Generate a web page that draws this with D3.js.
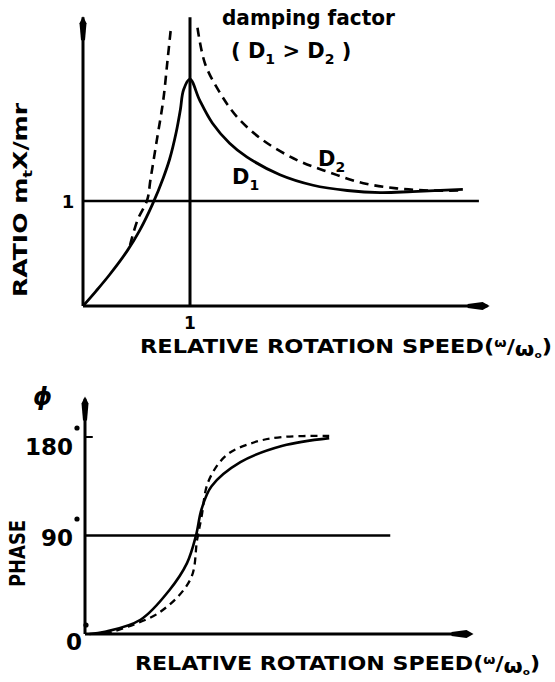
<!DOCTYPE html>
<html>
<head>
<meta charset="utf-8">
<script src="https://cdn.jsdelivr.net/npm/d3@7/dist/d3.min.js"></script>
<style>
  body { margin: 0; background: #fff; }
  text { font-family: "DejaVu Sans", sans-serif; fill: #000; }
</style>
</head>
<body>
<div id="chart"></div>
<script>
// upper plot: amplitude ratio vs relative rotation speed
const speedD1 = [0, 0.12, 0.25, 0.41, 0.53, 0.65, 0.75, 0.81, 0.87, 0.91, 0.94, 1.0, 1.09, 1.21, 1.37, 1.53, 1.84, 2.15, 2.47, 2.78, 3.08, 3.55];
const ratioD1 = [0, 0.14, 0.30, 0.52, 0.72, 0.97, 1.22, 1.40, 1.65, 1.87, 2.06, 2.16, 1.96, 1.74, 1.55, 1.42, 1.25, 1.15, 1.10, 1.08, 1.09, 1.11];
const speedD2Low = [0.44, 0.51, 0.60, 0.63, 0.69, 0.75, 0.79, 0.82];
const ratioD2Low = [0.58, 0.82, 1.01, 1.2, 1.58, 1.96, 2.34, 2.63];
const speedD2High = [1.07, 1.14, 1.28, 1.44, 1.68, 2.0, 2.31, 2.62, 2.93, 3.24, 3.55];
const ratioD2High = [2.65, 2.31, 2.03, 1.8, 1.58, 1.39, 1.27, 1.17, 1.12, 1.10, 1.10];
const ratioTicks = [1];
const speedTicks = [1];

// lower plot: phase vs relative rotation speed
const phaseSpeedD1 = [0.04, 0.18, 0.50, 0.76, 0.92, 1.0, 1.05, 1.14, 1.40, 1.78, 2.20];
const phaseD1 = [0, 2, 13, 40, 65, 90, 114, 135, 157, 172, 179];
const phaseSpeedD2 = [0.18, 0.66, 0.95, 1.01, 1.05, 1.11, 1.27, 1.52, 1.78, 2.20];
const phaseD2 = [0, 19, 50, 86, 107, 139, 163, 175, 180, 181];
const phaseTicks = [0, 90, 180];

const width = 555, height = 682;
const svg = d3.select("#chart").append("svg")
    .attr("width", width)
    .attr("height", height);
svg.append("rect").attr("width", width).attr("height", height).attr("fill", "#fff");

const zip = (xs, ys) => xs.map((v, i) => [v, ys[i]]);

// arrow ends look like thick blobs in the scan
function arrowUp(x, y) {
    svg.append("path")
        .attr("d", `M${x},${y} L${x + 3.5},${y + 7} L${x + 2},${y + 24} L${x - 2},${y + 24} L${x - 3.5},${y + 7} Z`)
        .attr("fill", "#000");
}
function arrowRight(x, y) {
    svg.append("path")
        .attr("d", `M${x},${y} L${x - 7},${y - 4} L${x - 22},${y - 2} L${x - 22},${y + 2} L${x - 7},${y + 4} Z`)
        .attr("fill", "#000");
}

// ---------- upper panel ----------
const x1 = d3.scaleLinear().domain([0, 3.8]).range([83, 489.6]);
const y1 = d3.scaleLinear().domain([0, 2.75]).range([306, 17.25]);

const upper = svg.append("g").attr("stroke", "#000").attr("fill", "none");
upper.append("line").attr("x1", x1(0)).attr("x2", x1(0)).attr("y1", y1(2.75)).attr("y2", y1(0)).attr("stroke-width", 3);
upper.append("line").attr("x1", x1(0)).attr("x2", x1(3.78)).attr("y1", y1(0)).attr("y2", y1(0)).attr("stroke-width", 3);
arrowUp(x1(0), y1(2.75) - 1);
arrowRight(x1(3.8), y1(0));

speedTicks.forEach(s => {
    upper.append("line").attr("x1", x1(s)).attr("x2", x1(s)).attr("y1", y1(2.75)).attr("y2", y1(0)).attr("stroke-width", 3);
    svg.append("text").attr("x", x1(s)).attr("y", 329).attr("text-anchor", "middle")
        .attr("font-size", 17).attr("font-weight", "bold").text(s);
});
ratioTicks.forEach(r => {
    upper.append("line").attr("x1", x1(0)).attr("x2", x1(3.7)).attr("y1", y1(r)).attr("y2", y1(r)).attr("stroke-width", 2.6);
    svg.append("text").attr("x", 68).attr("y", y1(r) + 7).attr("text-anchor", "middle")
        .attr("font-size", 18).attr("font-weight", "bold").text(r);
});

const line1 = d3.line().x(d => x1(d[0])).y(d => y1(d[1])).curve(d3.curveCatmullRom.alpha(0.5));
upper.append("path").attr("d", line1(zip(speedD1, ratioD1))).attr("stroke-width", 2.8);
upper.append("path").attr("d", line1(zip(speedD2Low, ratioD2Low))).attr("stroke-width", 2.6).attr("stroke-dasharray", "9,6");
upper.append("path").attr("d", line1(zip(speedD2High, ratioD2High))).attr("stroke-width", 2.6).attr("stroke-dasharray", "9,6");

// labels
svg.append("text").attr("x", 222).attr("y", 25).attr("font-size", 21).attr("font-weight", "bold")
    .attr("textLength", 173).attr("lengthAdjust", "spacingAndGlyphs").text("damping factor");
const cmp = svg.append("text").attr("x", 231).attr("y", 58).attr("font-size", 21).attr("font-weight", "bold");
cmp.append("tspan").text("( D");
cmp.append("tspan").attr("dy", 6).attr("font-size", 14).text("1");
cmp.append("tspan").attr("dy", -6).text("  >  D");
cmp.append("tspan").attr("dy", 6).attr("font-size", 14).text("2");
cmp.append("tspan").attr("dy", -6).text(" )");

const lD2 = svg.append("text").attr("x", 318).attr("y", 166).attr("font-size", 21).attr("font-weight", "bold");
lD2.append("tspan").text("D");
lD2.append("tspan").attr("dy", 6).attr("font-size", 14).text("2");
const lD1 = svg.append("text").attr("x", 232).attr("y", 184).attr("font-size", 21).attr("font-weight", "bold");
lD1.append("tspan").text("D");
lD1.append("tspan").attr("dy", 6).attr("font-size", 14).text("1");

const yl = svg.append("text").attr("transform", "translate(27,297) rotate(-90)")
    .attr("font-size", 20).attr("font-weight", "bold")
    .attr("textLength", 194).attr("lengthAdjust", "spacingAndGlyphs");
yl.append("tspan").text("RATIO  m");
yl.append("tspan").attr("dy", 5).attr("font-size", 13).text("t");
yl.append("tspan").attr("dy", -5).text("X/mr");

function speedLabel(x, y, len) {
    const t = svg.append("text").attr("x", x).attr("y", y).attr("font-size", 19).attr("font-weight", "bold")
        .attr("textLength", len).attr("lengthAdjust", "spacingAndGlyphs");
    t.append("tspan").text("RELATIVE  ROTATION  SPEED(");
    t.append("tspan").attr("dy", -6).attr("font-size", 12).text("ω");
    t.append("tspan").attr("dy", 6).text("/");
    t.append("tspan").attr("dy", 3).text("ω");
    t.append("tspan").attr("dy", 2).attr("font-size", 9).text("o");
    t.append("tspan").attr("dy", -5).text(")");
}
speedLabel(140, 353, 412);

// ---------- lower panel ----------
const x2 = d3.scaleLinear().domain([0, 3.5]).range([85, 473.5]);
const y2 = d3.scaleLinear().domain([0, 180]).range([634, 437]);

const lower = svg.append("g").attr("stroke", "#000").attr("fill", "none");
lower.append("line").attr("x1", x2(0)).attr("x2", x2(0)).attr("y1", y2(215)).attr("y2", y2(0)).attr("stroke-width", 3);
lower.append("line").attr("x1", x2(0)).attr("x2", x2(3.45)).attr("y1", y2(0)).attr("y2", y2(0)).attr("stroke-width", 3);
arrowUp(x2(0), y2(217));
arrowRight(x2(3.5), y2(0));

lower.append("line").attr("x1", x2(0)).attr("x2", x2(0.07)).attr("y1", y2(180)).attr("y2", y2(180)).attr("stroke-width", 2);
lower.append("line").attr("x1", x2(0)).attr("x2", x2(2.75)).attr("y1", y2(90)).attr("y2", y2(90)).attr("stroke-width", 2.6);

const labelPos = { 0: [82, 650], 90: [73, 546], 180: [73, 455] };
phaseTicks.forEach(p => {
    const [lx, ly] = labelPos[p];
    svg.append("text").attr("x", lx).attr("y", ly).attr("text-anchor", "end")
        .attr("font-size", 23).attr("font-weight", "bold").text(p);
    svg.append("circle").attr("cx", lx + 4).attr("cy", ly - 27 + (p === 0 ? 2 : 0)).attr("r", 2.6).attr("fill", "#000");
});

const line2 = d3.line().x(d => x2(d[0])).y(d => y2(d[1])).curve(d3.curveCatmullRom.alpha(0.5));
lower.append("path").attr("d", line2(zip(phaseSpeedD1, phaseD1))).attr("stroke-width", 2.6);
lower.append("path").attr("d", line2(zip(phaseSpeedD2, phaseD2))).attr("stroke-width", 2.3).attr("stroke-dasharray", "7,5");

svg.append("text").attr("x", 33).attr("y", 405).attr("font-size", 24).attr("font-weight", "bold")
    .attr("font-style", "italic").text("ϕ");
svg.append("text").attr("transform", "translate(25,587) rotate(-90)")
    .attr("font-size", 21).attr("font-weight", "bold")
    .attr("textLength", 67).attr("lengthAdjust", "spacingAndGlyphs").text("PHASE");

speedLabel(135, 670, 405);
</script>
</body>
</html>
